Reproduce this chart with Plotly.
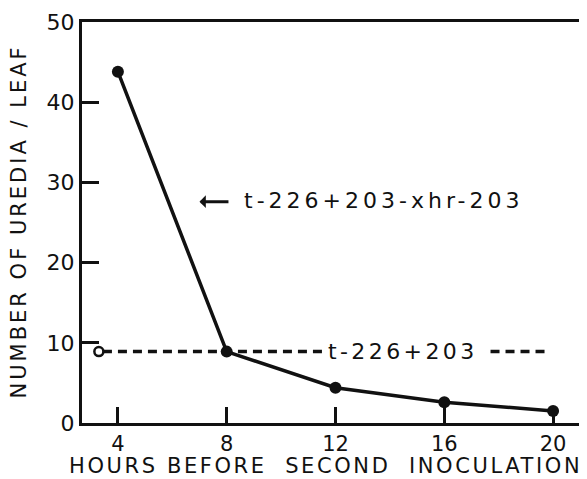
import plotly.graph_objects as go

hours = [4, 8, 12, 16, 20]
uredia = [43.8, 8.9, 4.4, 2.6, 1.5]

control_x = [3.45, 11.6, None, 17.7, 19.9]
control_y = [8.9, 8.9, None, 8.9, 8.9]
control_marker_x = [3.3]
control_marker_y = [8.9]

x_ticks = [4, 8, 12, 16, 20]
y_ticks = [0, 10, 20, 30, 40, 50]

FONT = "DejaVu Sans"
INK = "#111111"
FS = 22


def spaced(txt, px):
    return f'<span style="letter-spacing:{px}px">{txt}</span>'


fig = go.Figure()
fig.add_trace(go.Scatter(x=control_x, y=control_y, mode="lines",
                         line=dict(color=INK, width=3.5, dash="9px,6px"),
                         connectgaps=False, showlegend=False))
fig.add_trace(go.Scatter(x=control_marker_x, y=control_marker_y, mode="markers",
                         marker=dict(symbol="circle-open", size=9, color=INK,
                                     line=dict(width=2.5, color=INK)),
                         showlegend=False))
fig.add_trace(go.Scatter(x=hours, y=uredia, mode="lines+markers",
                         line=dict(color=INK, width=3.5),
                         marker=dict(size=12, color=INK),
                         showlegend=False))

fig.add_annotation(x=14.6, y=8.9, text=spaced("t-226+203", 3.4), showarrow=False,
                   xshift=-3, font=dict(family=FONT, size=FS, color=INK))
fig.add_annotation(x=7.0, y=27.6, ax=8.12, ay=27.6, axref="x", ayref="y",
                   xref="x", yref="y", text="", showarrow=True,
                   arrowhead=1, arrowsize=0.7, arrowwidth=3, arrowcolor=INK)
fig.add_annotation(x=8.55, y=27.8, text=spaced("t-226+203-xhr-203", 4), showarrow=False,
                   xanchor="left", font=dict(family=FONT, size=FS, color=INK))

# axis titles
fig.add_annotation(x=0.5, y=0, xref="paper", yref="paper", yshift=-43, xshift=-7,
                   xanchor="center", yanchor="middle", showarrow=False,
                   text=spaced("HOURS BEFORE  SECOND  INOCULATION", 2.6),
                   font=dict(family=FONT, size=21, color=INK))
fig.add_annotation(x=0, y=0.47, xref="paper", yref="paper", xshift=-63, yshift=13,
                   xanchor="center", yanchor="middle", showarrow=False, textangle=-90,
                   text=spaced("NUMBER OF UREDIA / LEAF", 3),
                   font=dict(family=FONT, size=21, color=INK))

fig.update_xaxes(range=[2.68, 21.1], tickvals=x_ticks, ticks="inside", ticklen=16,
                 tickwidth=3, tickcolor=INK, showline=True, linewidth=3, linecolor=INK,
                 mirror=True, showgrid=False, zeroline=False, automargin=False,
                 tickfont=dict(family=FONT, size=21, color=INK))
fig.update_yaxes(range=[0, 50], tickvals=y_ticks, ticks="inside", ticklen=17,
                 tickwidth=3, tickcolor=INK, showline=True, linewidth=3, linecolor=INK,
                 mirror=True, showgrid=False, zeroline=False, automargin=False,
                 tickfont=dict(family=FONT, size=FS, color=INK))

fig.update_layout(width=579, height=471, plot_bgcolor="white", paper_bgcolor="white",
                  margin=dict(l=74, r=4, t=14, b=56))
fig.write_html("out.html")
